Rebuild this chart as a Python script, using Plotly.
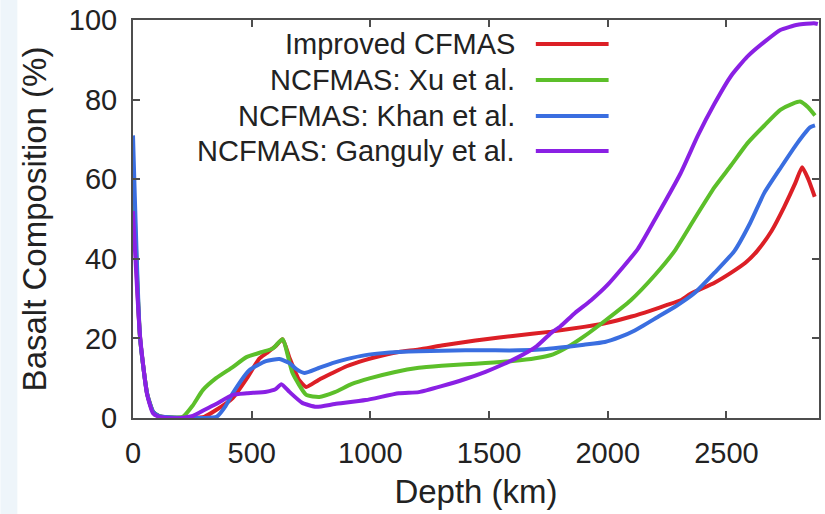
import plotly.graph_objects as go

# ---- data ----
red_depth = [0, 30, 60, 85, 110, 150, 200, 250, 300, 350, 420, 480, 533, 562, 600, 630, 660, 700, 730,
             780, 840, 900, 980, 1050, 1120, 1204, 1300, 1400, 1485, 1600, 1762, 1900, 1988, 2100,
             2181, 2250, 2307, 2349, 2450, 2517, 2580, 2630, 2690, 2743, 2790, 2819, 2845, 2872]
red_val = [58, 20, 6, 1.5, 0.5, 0.2, 0, 0, 0.3, 2, 5, 10, 15, 16.3, 18, 19.8, 15, 9.5, 7.8,
           9.5, 11.3, 13, 14.6, 15.7, 16.6, 17.2, 18.2, 19.1, 19.8, 20.6, 21.7, 22.9, 23.8, 25.5,
           27, 28.4, 29.6, 31.2, 34, 36.4, 39, 42, 47, 53, 59, 63, 60, 55.6]

green_depth = [0, 30, 60, 85, 110, 150, 210, 250, 294, 350, 420, 478, 545, 590, 630, 672, 730, 785,
               850, 920, 1000, 1100, 1204, 1300, 1400, 1485, 1600, 1695, 1770, 1833, 1900, 1990,
               2097, 2200, 2282, 2365, 2450, 2520, 2588, 2660, 2727, 2780, 2810, 2845, 2873]
green_val = [63, 20, 6, 1.5, 0.5, 0.2, 0.3, 3, 7, 10, 12.8, 15.3, 16.6, 17.5, 19.8, 11.3, 5.8, 5.3,
             6.5, 8.5, 10, 11.5, 12.6, 13.1, 13.5, 13.8, 14.3, 15, 16, 17.9, 20.5, 24.5,
             29.6, 36, 42, 50, 58, 63.5, 69, 73.5, 77.4, 79, 79.5, 78, 76]

blue_depth = [0, 30, 60, 85, 110, 150, 250, 300, 352, 390, 420, 490, 560, 617, 659, 690, 722, 780,
              840, 900, 980, 1050, 1120, 1204, 1300, 1400, 1500, 1623, 1733, 1833, 1900, 1988,
              2050, 2114, 2211, 2290, 2366, 2450, 2534, 2600, 2659, 2730, 2798, 2852, 2873]
blue_val = [71, 20, 6, 1.5, 0.5, 0.2, 0, 0, 0.3, 3, 6.2, 12, 14.3, 14.8, 13.8, 12.2, 11.3, 12.5,
            13.8, 14.8, 15.8, 16.3, 16.6, 16.8, 16.9, 17, 17, 17, 17.3, 17.9, 18.4, 19.1,
            20.3, 22, 25.4, 28.2, 31.4, 36.5, 42, 49, 56.5, 63, 69, 73, 73.5]

purple_depth = [0, 29, 59, 84, 110, 150, 200, 252, 300, 350, 420, 480, 562, 600, 625, 660, 713, 772,
                850, 980, 1120, 1204, 1300, 1400, 1485, 1560, 1623, 1700, 1762, 1800, 1862, 1930,
                2000, 2127, 2200, 2307, 2380, 2450, 2520, 2588, 2660, 2727, 2800, 2869, 2885]
purple_val = [52, 21, 6, 1.2, 0.3, 0, 0, 0.5, 2, 3.5, 5.8, 6.2, 6.6, 7.2, 8.5, 6.5, 3.8, 2.8,
              3.5, 4.5, 6.2, 6.5, 8, 9.8, 11.6, 13.5, 15.3, 18, 21.4, 23, 26.4, 29.6,
              33.5, 42.5, 50, 61.5, 71, 79, 86, 90.8, 94.5, 97.5, 98.8, 99.2, 99]

series_names = ["Improved CFMAS", "NCFMAS: Xu et al.", "NCFMAS: Khan et al.", "NCFMAS: Ganguly et al."]
series_colors = ["#dc1f26", "#5cbf2a", "#3a6ee0", "#8a20e4"]
x_ticks = [0, 500, 1000, 1500, 2000, 2500]
y_ticks = [0, 20, 40, 60, 80, 100]

series = [(red_depth, red_val), (green_depth, green_val), (blue_depth, blue_val), (purple_depth, purple_val)]

FONT = "Liberation Sans, Arial, Helvetica, sans-serif"
TXT = "#222222"
AX = "#4d4d4d"

fig = go.Figure()
for (d, v), name, col in zip(series, series_names, series_colors):
    fig.add_trace(go.Scatter(x=d, y=v, mode="lines", name=name,
                             line=dict(color=col, width=4, shape="spline", smoothing=0.5),
                             showlegend=False))

# manual legend (text right-aligned, sample line on the right)
legend_y = [0.9397, 0.8492, 0.7588, 0.6709]
for name, col, ly in zip(series_names, series_colors, legend_y):
    fig.add_annotation(x=0.5596, y=ly, xref="paper", yref="paper", text=name,
                       showarrow=False, xanchor="right", yanchor="middle",
                       font=dict(family=FONT, size=29, color=TXT))
    fig.add_shape(type="line", xref="paper", yref="paper", x0=0.5872, x1=0.6933, y0=ly, y1=ly,
                  line=dict(color=col, width=4))

# light blue strip on the left edge of the image
fig.add_shape(type="rect", xref="paper", yref="paper", x0=-0.1933, x1=-0.1686, y0=-0.3, y1=1.1,
              fillcolor="#eef5fa", line=dict(width=0), layer="below")

fig.update_layout(
    width=825, height=514,
    margin=dict(l=133, r=4, t=20, b=96),
    paper_bgcolor="white", plot_bgcolor="white",
    font=dict(family=FONT, size=29, color=TXT),
    showlegend=False,
)
fig.update_xaxes(range=[0, 2890], tickvals=x_ticks, ticks="inside", ticklen=7, tickwidth=1.5,
                 tickcolor=AX, showline=True, linecolor=AX, linewidth=2, mirror="ticks",
                 showgrid=False, zeroline=False, ticklabelstandoff=8,
                 tickfont=dict(family=FONT, size=29, color=TXT),
                 title=dict(text="Depth (km)", font=dict(family=FONT, size=33, color=TXT), standoff=12))
fig.update_yaxes(range=[0, 100], tickvals=y_ticks, ticks="inside", ticklen=7, tickwidth=1.5,
                 tickcolor=AX, showline=True, linecolor=AX, linewidth=2, mirror="ticks",
                 showgrid=False, zeroline=False, ticklabelstandoff=8,
                 tickfont=dict(family=FONT, size=29, color=TXT),
                 title=dict(text="Basalt Composition (%)", font=dict(family=FONT, size=33, color=TXT), standoff=12))

fig.write_html("out.html")
